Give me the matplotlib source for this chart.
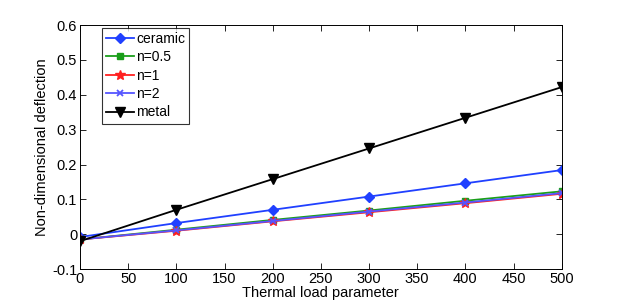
import matplotlib
matplotlib.use("Agg")
import matplotlib.pyplot as plt

x = [0, 100, 200, 300, 400, 500]
ceramic = [-0.008, 0.032, 0.070, 0.108, 0.146, 0.184]
n05 = [-0.015, 0.013, 0.041, 0.068, 0.096, 0.123]
n1 = [-0.015, 0.010, 0.037, 0.063, 0.089, 0.116]
n2 = [-0.015, 0.011, 0.038, 0.065, 0.091, 0.118]
metal = [-0.020, 0.070, 0.158, 0.246, 0.334, 0.422]

plt.rcParams['font.family'] = ['Liberation Sans', 'DejaVu Sans']
fig = plt.figure(figsize=(6.2, 3.02), dpi=100)
ax = fig.add_axes([0.129, 0.109, 0.777, 0.808])

ax.plot(x, ceramic, '-D', color='#2040ff', lw=1.3, ms=5.5, label='ceramic')
ax.plot(x, n05, '-s', color='#1a9e1a', lw=1.3, ms=5, label='n=0.5')
ax.plot(x, n1, '-*', color='#ff2020', lw=1.3, ms=7.5, label='n=1')
ax.plot(x, n2, '-x', color='#5555ff', lw=1.3, ms=4.5, mew=1.3, label='n=2')
ax.plot(x, metal, '-v', color='black', lw=1.3, ms=7.5, label='metal')

ax.set_xlim(0, 500)
ax.set_ylim(-0.1, 0.6)
ax.set_xticks(range(0, 501, 50))
ax.set_yticks([-0.1, 0, 0.1, 0.2, 0.3, 0.4, 0.5, 0.6])
ax.set_yticklabels(['-0.1', '0', '0.1', '0.2', '0.3', '0.4', '0.5', '0.6'])
ax.tick_params(direction='in', top=True, right=True, labelsize=10.5, length=4, width=0.6, pad=2)
for s in ax.spines.values():
    s.set_linewidth(0.7)
ax.set_xlabel('Thermal load parameter', fontsize=10.5, labelpad=0)
ax.set_ylabel('Non-dimensional deflection', fontsize=10.5, labelpad=2)

leg = ax.legend(loc='upper left', bbox_to_anchor=(0.046, 0.99), fontsize=10, frameon=True,
                fancybox=False, edgecolor='black', handlelength=2.0, handletextpad=0.15,
                labelspacing=0.32, borderpad=0.3, borderaxespad=0)
leg.get_frame().set_linewidth(0.8)

fig.savefig('out.png', dpi=100)
